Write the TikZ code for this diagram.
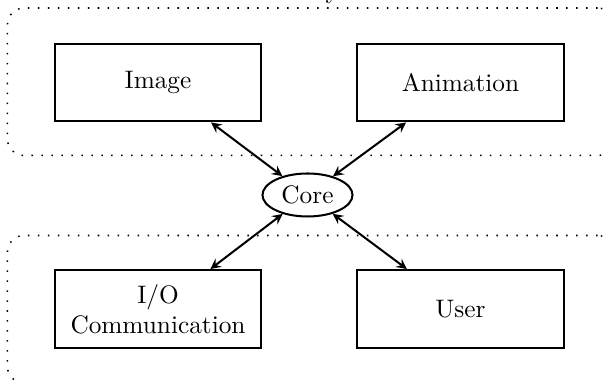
\documentclass[tikz,border=0pt]{standalone}
\usetikzlibrary{shapes.geometric}
\begin{document}
\begin{tikzpicture}[x=0.3953pt, y=-0.3953pt,
  box/.style={draw, line width=0.8pt, minimum width=81.8pt, minimum height=30.8pt, inner sep=0pt, align=center},
  coreshape/.style={draw, ellipse, line width=0.8pt, minimum width=35.6pt, minimum height=17pt, inner sep=0pt},
  frame/.style={draw, line width=0.6pt, dash pattern=on 0.6pt off 3.34pt, rounded corners=6.5pt, minimum width=239.8pt, minimum height=58.3pt, inner sep=0pt},
  arr/.style={<->, >=stealth, line width=0.8pt}]
\clip (0,0) rectangle (607,381);
\node[frame] (topframe) at (310.75,81.75) {};
\node[frame] (botframe) at (310.75,309.25) {};
\node[anchor=base east, inner sep=0pt] (toplabel) at (339.5,-1.5) {Library};
\node[box] (img) at (158,82.5) {Image};
\node[box] (anim) at (460.5,82.5) {Animation};
\node[box] (io) at (158,309) {I/O\\Communication};
\node[box] (user) at (460.5,309) {User};
\node[coreshape] (core) at (307.5,195) {Core};
\draw[arr] (img) -- (core);
\draw[arr] (anim) -- (core);
\draw[arr] (io) -- (core);
\draw[arr] (user) -- (core);
\end{tikzpicture}
\end{document}
